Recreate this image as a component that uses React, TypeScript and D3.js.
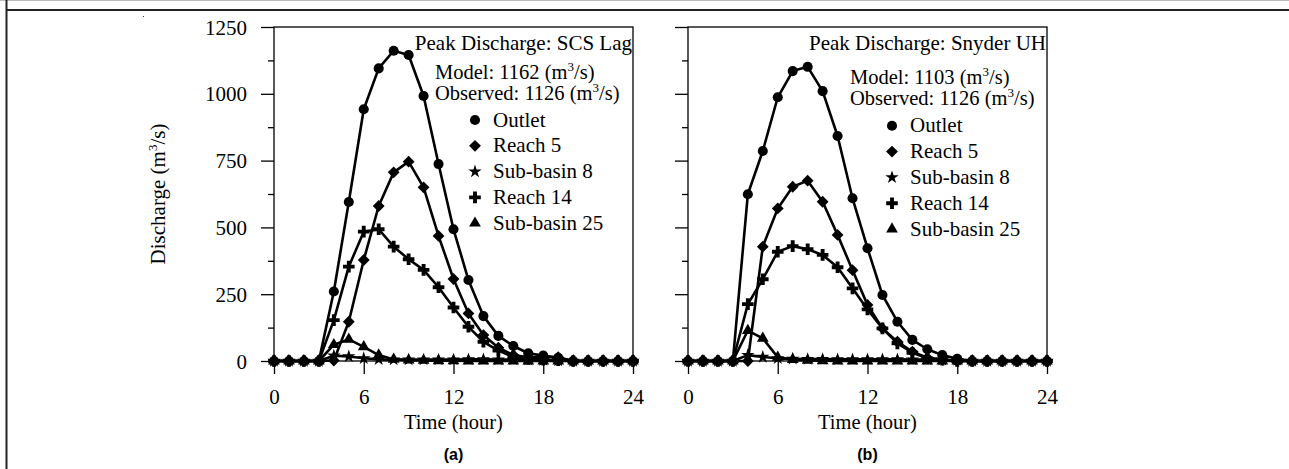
import React, { useEffect, useRef } from 'react';
import * as d3 from 'd3';

const hours = d3.range(0, 25);

// (a) SCS Lag
const outletA = [0, 0, 0, 0, 260, 595, 942, 1095, 1161, 1145, 992, 737, 493, 303, 168, 94, 56, 29, 20, 12, 0, 0, 0, 0, 0];
const reach5A = [0, 0, 0, 0, 2, 147, 378, 580, 706, 746, 650, 468, 307, 178, 97, 50, 22, 14, 16, 14, 0, 0, 0, 0, 0];
const reach14A = [0, 0, 0, 0, 153, 353, 484, 493, 428, 381, 341, 276, 200, 128, 72, 39, 15, 8, 5, 3, 0, 0, 0, 0, 0];
const sub8A = [0, 0, 0, 0, 20, 17, 10, 6, 5, 5, 5, 5, 5, 6, 6, 5, 5, 4, 3, 2, 0, 0, 0, 0, 0];
const sub25A = [0, 0, 0, 0, 61, 81, 53, 22, 6, 3, 2, 1, 1, 0, 0, 0, 0, 0, 0, 0, 0, 0, 0, 0, 0];

// (b) Snyder UH
const outletB = [0, 0, 0, 0, 624, 786, 987, 1085, 1101, 1010, 842, 609, 422, 247, 147, 79, 44, 22, 8, 0, 0, 0, 0, 0, 0];
const reach5B = [0, 0, 0, 0, 0, 428, 571, 652, 675, 596, 472, 340, 210, 122, 72, 35, 12, 5, 0, 0, 0, 0, 0, 0, 0];
const reach14B = [0, 0, 0, 0, 213, 306, 409, 430, 418, 397, 351, 272, 193, 122, 66, 31, 10, 5, 0, 0, 0, 0, 0, 0, 0];
const sub8B = [0, 0, 0, 0, 22, 15, 10, 8, 7, 7, 6, 6, 6, 6, 6, 5, 5, 4, 3, 0, 0, 0, 0, 0, 0];
const sub25B = [0, 0, 0, 0, 114, 85, 14, 5, 2, 1, 0, 0, 0, 0, 0, 0, 0, 0, 0, 0, 0, 0, 0, 0, 0];

const seriesNames = ['Outlet', 'Reach 5', 'Sub-basin 8', 'Reach 14', 'Sub-basin 25'];
const xTicks = [0, 6, 12, 18, 24];
const yTicks = [0, 250, 500, 750, 1000, 1250];
const yMinor = [125, 375, 625, 875, 1125];

const SERIF = '"Liberation Serif", "Times New Roman", serif';

const symbolFor = (name: string) => {
  if (name === 'Outlet') return d3.symbol(d3.symbolCircle, 80)();
  if (name === 'Reach 5') return d3.symbol(d3.symbolSquare, 70)();
  if (name === 'Sub-basin 8') return d3.symbol(d3.symbolStar, 55)();
  if (name === 'Reach 14') return d3.symbol(d3.symbolCross, 75)();
  return d3.symbol(d3.symbolTriangle, 60)();
};
const rotFor = (name: string) => (name === 'Reach 5' ? ' rotate(45)' : '');

const App: React.FC = () => {
  const svgRef = useRef<SVGSVGElement>(null);

  useEffect(() => {
    if (!svgRef.current) return;
    const svg = d3.select(svgRef.current);
    svg.selectAll('*').remove();

    // page frame
    svg.append('line').attr('x1', 0).attr('x2', 1289).attr('y1', 0.5).attr('y2', 0.5).attr('stroke', '#bbb');
    svg.append('line').attr('x1', 6).attr('x2', 1289).attr('y1', 10).attr('y2', 10).attr('stroke', '#222').attr('stroke-width', 2);
    svg.append('line').attr('x1', 6.5).attr('x2', 6.5).attr('y1', 0).attr('y2', 469).attr('stroke', '#222').attr('stroke-width', 2);
    svg.append('rect').attr('x', 143).attr('y', 16).attr('width', 1).attr('height', 1).attr('fill', '#333');

    const y = d3.scaleLinear().domain([0, 1250]).range([361, 27]);

    const panels = [
      {
        x0: 274, label: '(a)', title: 'Peak Discharge: SCS Lag', model: '1162',
        data: [outletA, reach5A, sub8A, reach14A, sub25A],
        modelY: 79, obsY: 100, legY: 126.5, legX: 475, textX: 435, showY: true,
      },
      {
        x0: 688, label: '(b)', title: 'Peak Discharge: Snyder UH', model: '1103',
        data: [outletB, reach5B, sub8B, reach14B, sub25B],
        modelY: 84, obsY: 105, legY: 132.3, legX: 892, textX: 850, showY: false,
      },
    ];

    panels.forEach(p => {
      const x = d3.scaleLinear().domain([0, 24]).range([p.x0, p.x0 + 359]);
      const g = svg.append('g');

      // frame
      g.append('rect')
        .attr('x', x(0)).attr('y', y(1250))
        .attr('width', x(24) - x(0)).attr('height', y(0) - y(1250))
        .attr('fill', 'none').attr('stroke', '#000').attr('stroke-width', 1.3);

      // y axis
      const yAx = g.append('g').attr('transform', `translate(${x(0)},0)`)
        .call(d3.axisLeft(y).tickValues(yTicks).tickFormat(d3.format('d')).tickSize(13).tickSizeOuter(0).tickPadding(14));
      yAx.select('.domain').remove();
      yAx.selectAll('line').attr('stroke', '#000').attr('stroke-width', 1.3);
      yAx.selectAll('text')
        .style('font-family', SERIF).style('font-size', '21px').attr('fill', '#000')
        .attr('dy', '0.34em');
      if (!p.showY) yAx.selectAll('text').remove();

      const yMin = g.append('g').attr('transform', `translate(${x(0)},0)`)
        .call(d3.axisLeft(y).tickValues(yMinor).tickSize(6).tickSizeOuter(0).tickFormat(() => ''));
      yMin.select('.domain').remove();
      yMin.selectAll('line').attr('stroke', '#000').attr('stroke-width', 1.3);

      // x axis
      const xAx = g.append('g').attr('transform', `translate(0,${y(0)})`)
        .call(d3.axisBottom(x).tickValues(xTicks).tickFormat(d3.format('d')).tickSize(13).tickSizeOuter(0).tickPadding(15));
      xAx.select('.domain').remove();
      xAx.selectAll('line').attr('stroke', '#000').attr('stroke-width', 1.3);
      xAx.selectAll('text')
        .style('font-family', SERIF).style('font-size', '21px').attr('fill', '#000')
        .attr('dy', '0.71em');

      // series
      const line = d3.line<number>().x((_, i) => x(hours[i])).y(d => y(d));
      const order = [4, 3, 2, 1, 0];
      order.forEach(si => {
        const vals = p.data[si];
        const name = seriesNames[si];
        g.append('path').datum(vals).attr('d', line)
          .attr('fill', 'none').attr('stroke', '#000').attr('stroke-width', 2.6)
          .attr('stroke-linejoin', 'round');
        g.selectAll(null).data(vals).enter().append('path')
          .attr('d', symbolFor(name))
          .attr('transform', (d, i) => `translate(${x(hours[i])},${y(d)})${rotFor(name)}`)
          .attr('fill', '#000');
      });

      // annotation
      const txt = (tx: number, ty: number, anchor: string, size = 21) =>
        g.append('text').attr('x', tx).attr('y', ty).attr('text-anchor', anchor)
          .style('font-family', SERIF).style('font-size', `${size}px`).attr('fill', '#000');

      txt(x(24) - 1, 50, 'end').text(p.title);
      const m = txt(p.textX, p.modelY, 'start', 20.5);
      m.append('tspan').text(`Model: ${p.model} (m`);
      m.append('tspan').attr('dy', -8).style('font-size', '13px').text('3');
      m.append('tspan').attr('dy', 8).text('/s)');
      const o = txt(p.textX, p.obsY, 'start', 20.5);
      o.append('tspan').text('Observed: 1126 (m');
      o.append('tspan').attr('dy', -8).style('font-size', '13px').text('3');
      o.append('tspan').attr('dy', 8).text('/s)');

      seriesNames.forEach((name, i) => {
        const by = p.legY + i * 25.8;
        g.append('path').attr('d', symbolFor(name))
          .attr('transform', `translate(${p.legX},${by - 6.5})${rotFor(name)}`)
          .attr('fill', '#000');
        txt(p.legX + 18, by, 'start').text(name);
      });

      // axis titles
      txt((x(0) + x(24)) / 2, 429, 'middle', 20.5).text('Time (hour)');
      g.append('text').attr('x', (x(0) + x(24)) / 2).attr('y', 460).attr('text-anchor', 'middle')
        .style('font-family', '"Liberation Sans", Arial, sans-serif').style('font-size', '16px')
        .style('font-weight', 'bold').attr('fill', '#000').text(p.label);

      if (p.showY) {
        const yl = g.append('text')
          .attr('transform', `translate(165,${(y(0) + y(1250)) / 2}) rotate(-90)`)
          .attr('text-anchor', 'middle')
          .style('font-family', SERIF).style('font-size', '21px').attr('fill', '#000');
        yl.append('tspan').text('Discharge (m');
        yl.append('tspan').attr('dy', -8).style('font-size', '13px').text('3');
        yl.append('tspan').attr('dy', 8).text('/s)');
      }
    });
  }, []);

  return (
    <svg
      ref={svgRef}
      width={1289}
      height={469}
      style={{ position: 'absolute', left: 0, top: 0, background: '#fff' }}
    />
  );
};

export default App;
